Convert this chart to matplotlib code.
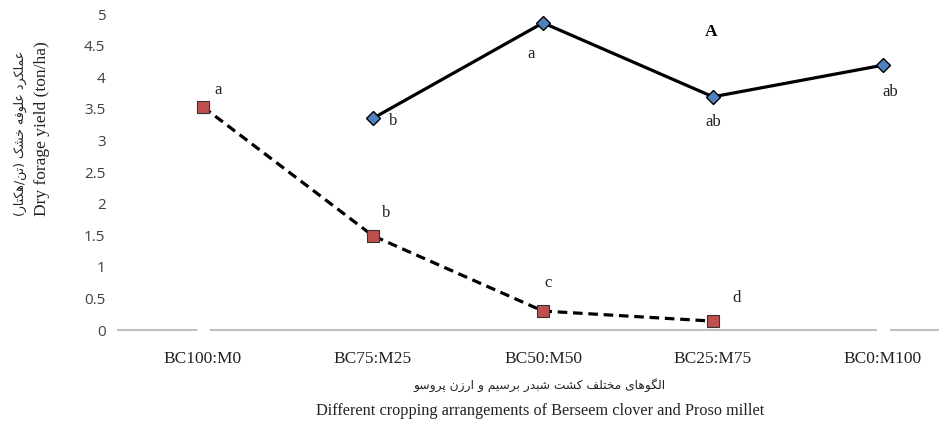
import matplotlib
matplotlib.use("Agg")
import matplotlib.pyplot as plt
import numpy as np

categories = ["BC100:M0", "BC75:M25", "BC50:M50", "BC25:M75", "BC0:M100"]
# solid line, blue diamonds (starts at second category)
solid_vals = [None, 3.35, 4.86, 3.69, 4.19]
solid_letters = [None, "b", "a", "ab", "ab"]
# dashed line, red squares
dashed_vals = [3.53, 1.49, 0.30, 0.14, None]
dashed_letters = ["a", "b", "c", "d", None]
yticks = [0, 0.5, 1, 1.5, 2, 2.5, 3, 3.5, 4, 4.5, 5]
ytick_labels = ["0", "0.5", "1", "1.5", "2", "2.5", "3", "3.5", "4", "4.5", "5"]

ylabel_fa = "عملکرد علوفه خشک (تن/هکتار)"
ylabel_en = "Dry forage yield (ton/ha)"
xlabel_fa = "الگوهای مختلف کشت شبدر برسیم و ارزن پروسو"
xlabel_en = "Different cropping arrangements of Berseem clover and Proso millet"
panel = "A"

# --- minimal Arabic/Persian shaping ---
FORMS = {
    "ا": (0xFE8D, 0xFE8E, None, None),
    "ب": (0xFE8F, 0xFE90, 0xFE91, 0xFE92),
    "پ": (0xFB56, 0xFB57, 0xFB58, 0xFB59),
    "ت": (0xFE95, 0xFE96, 0xFE97, 0xFE98),
    "خ": (0xFEA5, 0xFEA6, 0xFEA7, 0xFEA8),
    "د": (0xFEA9, 0xFEAA, None, None),
    "ر": (0xFEAD, 0xFEAE, None, None),
    "ز": (0xFEAF, 0xFEB0, None, None),
    "س": (0xFEB1, 0xFEB2, 0xFEB3, 0xFEB4),
    "ش": (0xFEB5, 0xFEB6, 0xFEB7, 0xFEB8),
    "ع": (0xFEC9, 0xFECA, 0xFECB, 0xFECC),
    "ف": (0xFED1, 0xFED2, 0xFED3, 0xFED4),
    "ل": (0xFEDD, 0xFEDE, 0xFEDF, 0xFEE0),
    "م": (0xFEE1, 0xFEE2, 0xFEE3, 0xFEE4),
    "ن": (0xFEE5, 0xFEE6, 0xFEE7, 0xFEE8),
    "ه": (0xFEE9, 0xFEEA, 0xFEEB, 0xFEEC),
    "و": (0xFEED, 0xFEEE, None, None),
    "ی": (0xFBFC, 0xFBFD, 0xFBFE, 0xFBFF),
    "ک": (0xFB8E, 0xFB8F, 0xFB90, 0xFB91),
    "گ": (0xFB92, 0xFB93, 0xFB94, 0xFB95),
}


def shape(s):
    out = []
    n = len(s)
    for i, ch in enumerate(s):
        f = FORMS.get(ch)
        if f is None:
            out.append(ch)
            continue
        prev = s[i - 1] if i > 0 else ""
        nxt = s[i + 1] if i < n - 1 else ""
        join_prev = prev in FORMS and FORMS[prev][2] is not None
        join_next = nxt in FORMS and f[2] is not None
        if join_prev and join_next:
            cp = f[3]
        elif join_prev:
            cp = f[1]
        elif join_next:
            cp = f[2]
        else:
            cp = f[0]
        out.append(chr(cp))
    mirror = {"(": ")", ")": "("}
    return "".join(mirror.get(c, c) for c in reversed(out))


W, H = 939, 429
fig = plt.figure(figsize=(W / 100, H / 100), dpi=100)
ax = fig.add_axes([118 / W, 1 - 330 / H, (939 - 118) / W, (330 - 14) / H])

x = np.arange(len(categories))
sx = [i for i, v in enumerate(solid_vals) if v is not None]
sy = [v for v in solid_vals if v is not None]
dx = [i for i, v in enumerate(dashed_vals) if v is not None]
dy = [v for v in dashed_vals if v is not None]

ax.plot(sx, sy, color="black", lw=2.3, zorder=3)
ax.plot(sx, sy, ls="none", marker="D", ms=7, mfc="#4F81BD", mec="black", mew=1.0, zorder=4)
ax.plot(dx, dy, color="black", lw=2.3, ls=(0, (3, 1.8)), zorder=3)
ax.plot(dx, dy, ls="none", marker="s", ms=9, mfc="#C0504D", mec="#333333", mew=0.8, zorder=4)

# hidden (white) markers for the missing ends on the baseline
ax.plot([0], [0], ls="none", marker="D", ms=6, mfc="white", mec="white", zorder=5, clip_on=False)
ax.plot([4], [0], ls="none", marker="s", ms=8, mfc="white", mec="white", zorder=5, clip_on=False)

serif = "Liberation Serif"
solid_off = {1: (20, -3), 2: (-12, -31), 3: (0, -25), 4: (7, -27)}
dashed_off = {0: (15, 17), 1: (13, 23), 2: (5, 28), 3: (24, 23)}
lfs = 12
for i in sx:
    ax.annotate(solid_letters[i], (i, solid_vals[i]), xytext=solid_off[i], textcoords="offset pixels",
                ha="center", va="center", fontsize=lfs, family=serif, color="#222222")
for i in dx:
    ax.annotate(dashed_letters[i], (i, dashed_vals[i]), xytext=dashed_off[i], textcoords="offset pixels",
                ha="center", va="center", fontsize=lfs, family=serif, color="#222222")

ax.set_xlim(-0.5, (939 - 203) / 170)
ax.set_ylim(0, 5)
ax.set_yticks(yticks)
ax.set_yticklabels(ytick_labels, family="Open Sans", fontsize=11, color="#404040")
ax.set_xticks(x)
ax.set_xticklabels(categories, family=serif, fontsize=12.5, color="#222222")
ax.tick_params(axis="y", length=0, pad=9)
ax.tick_params(axis="x", length=0, pad=15)
for s in ["top", "right", "left"]:
    ax.spines[s].set_visible(False)
ax.spines["bottom"].set_color("#BFBFBF")
ax.spines["bottom"].set_linewidth(1.5)
ax.patch.set_alpha(0)

fig.text(711 / W, 1 - 32 / H, panel, family=serif, fontweight="bold", fontsize=12.5, ha="center", va="center")

fig.text(20 / W, 1 - 133 / H, shape(ylabel_fa), family="DejaVu Sans", fontsize=9, rotation=90,
         ha="center", va="center", color="#222222")
fig.text(42 / W, 1 - 129 / H, ylabel_en, family=serif, fontsize=12.5, rotation=90,
         ha="center", va="center", color="#222222")
fig.text(540 / W, 1 - 385 / H, shape(xlabel_fa), family="DejaVu Sans", fontsize=8.8,
         ha="center", va="center", color="#222222")
fig.text(540 / W, 1 - 411 / H, xlabel_en, family=serif, fontsize=11.7,
         ha="center", va="center", color="#222222")

fig.savefig("out.png", dpi=100)
